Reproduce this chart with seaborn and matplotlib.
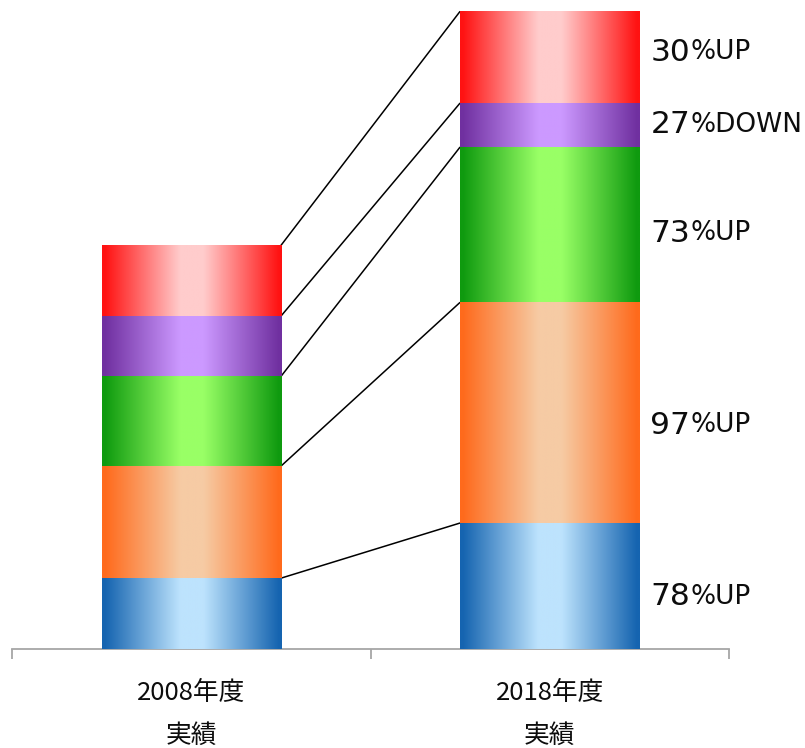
import numpy as np
import pandas as pd
import matplotlib
matplotlib.use("Agg")
import matplotlib.pyplot as plt
from matplotlib.colors import to_rgb
import seaborn as sns

# Stacked components per fiscal year, bottom to top
years = ["2008年度\n実績", "2018年度\n実績"]
segments = ["区分1", "区分2", "区分3", "区分4", "区分5"]
values_2008 = [70.8, 112.0, 89.7, 60.3, 70.7]
values_2018 = [126.0, 220.7, 155.3, 44.0, 91.7]

# Change labels shown beside the 2018 bar (number, suffix)
change_numbers = ["78", "97", "73", "27", "30"]
change_suffixes = ["%UP", "%UP", "%UP", "%DOWN", "%UP"]

# Edge (dark) and centre (light) colours of each segment's horizontal gradient
edge_colors = ["#1564b0", "#ff6a1c", "#0f9a0f", "#7030a0", "#ff1212"]
center_colors = ["#bde3fd", "#f6cba4", "#99ff66", "#cc99ff", "#ffcccc"]

sns.set_theme(style="white")
plt.rcParams["font.family"] = ["DejaVu Sans"]

# Long table of cumulative tops for seaborn
rows = []
for year, vals in zip(years, [values_2008, values_2018]):
    tops = np.cumsum(vals)
    for seg, v, t in zip(segments, vals, tops):
        rows.append({"year": year, "segment": seg, "value": v, "top": t})
df = pd.DataFrame(rows)

fig = plt.figure(figsize=(8.05, 7.48), dpi=100)
ax = fig.add_axes([12 / 805, (748 - 649) / 748, (729 - 12) / 805, 640 / 748])

sns.barplot(data=df, x="year", y="top", hue="segment", hue_order=segments,
            order=years, dodge=False, width=0.5, palette=edge_colors,
            saturation=1, legend=False, ax=ax)


def gradient(edge, center, n=256):
    e = np.array(to_rgb(edge))
    c = np.array(to_rgb(center))
    t = np.linspace(0, 1, n)
    tri = 1 - np.abs(2 * t - 1)
    w = np.clip((tri - 0.03) / 0.84, 0, 1)
    return (e[None, :] + (c - e)[None, :] * w[:, None])[None, :, :]


# Replace each bar's flat fill with a left-right cylinder-style gradient
for si, cont in enumerate(ax.containers):
    for yi, patch in enumerate(cont.patches):
        sub = df[(df.year == years[yi]) & (df.segment == segments[si])].iloc[0]
        top = sub["top"]
        bottom = top - sub["value"]
        x0 = patch.get_x()
        w = patch.get_width()
        patch.set_visible(False)
        ax.imshow(gradient(edge_colors[si], center_colors[si]),
                  extent=(x0, x0 + w, bottom, top), aspect="auto",
                  interpolation="bilinear", zorder=3)

# Connector lines between the tops of matching segments
tops_08 = np.cumsum(values_2008)
tops_18 = np.cumsum(values_2018)
for a, b in zip(tops_08, tops_18):
    ax.plot([0.25, 0.75], [a, b], color="black", lw=1.1, zorder=2,
            solid_capstyle="butt")

ax.set_xlim(-0.5, 1.5)
ax.set_ylim(0, 640)

# Change labels to the right of the 2018 bar
baseline_drop = [19, 21, 17, 8, 3.5]  # px below segment centre
centers_18 = tops_18 - np.array(values_2018) / 2
for num, suf, c, drop in zip(change_numbers, change_suffixes, centers_18, baseline_drop):
    t1 = ax.annotate(num, xy=(1.25, c), xytext=(8.0, -drop * 0.72),
                     textcoords="offset points", ha="left", va="baseline",
                     fontsize=22.5, color="#0d0d0d", annotation_clip=False)
    ax.annotate(suf, xy=(1, 0), xycoords=t1, xytext=(0, 0.85),
                textcoords="offset points", ha="left", va="bottom",
                fontsize=19, color="#0d0d0d", annotation_clip=False)

# Axis styling
for side in ["left", "top", "right"]:
    ax.spines[side].set_visible(False)
ax.spines["bottom"].set_color("#a6a6a6")
ax.spines["bottom"].set_linewidth(1.3)
ax.set_yticks([])
ax.set_xlabel("")
ax.set_ylabel("")
ax.set_xticks([0, 1])
ax.set_xticklabels(years, fontsize=18.5, linespacing=1.85,
                   family=["Noto Sans CJK JP", "DejaVu Sans"], color="#0d0d0d")
ax.tick_params(axis="x", which="major", length=0, pad=22)
ax.set_xticks([-0.5, 0.5, 1.5], minor=True)
ax.tick_params(axis="x", which="minor", length=7, width=1.3, color="#a6a6a6",
               direction="out", bottom=True)

fig.savefig("out.png", dpi=100, facecolor="white")
